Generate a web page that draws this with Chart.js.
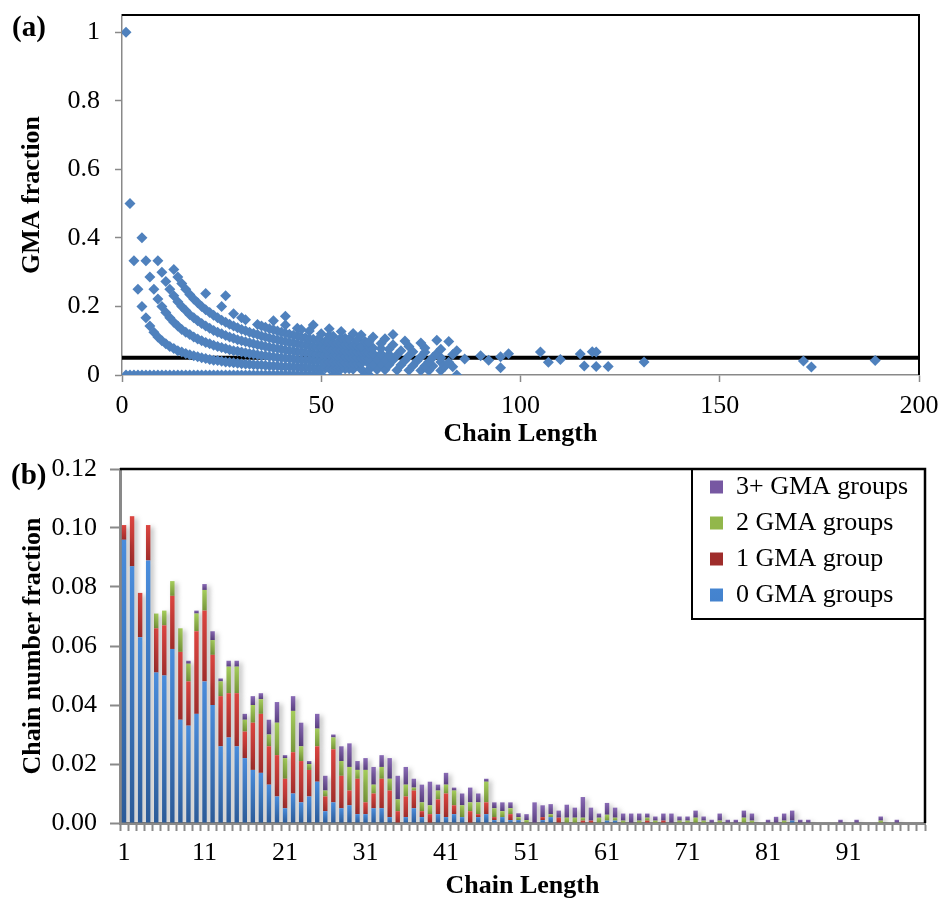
<!DOCTYPE html>
<html>
<head>
<meta charset="utf-8">
<script src="https://cdn.jsdelivr.net/npm/chart.js@4.4.1/dist/chart.umd.min.js"></script>
<style>
  html, body { margin: 0; padding: 0; background: #fff; }
  #wrap { position: relative; width: 942px; height: 902px; overflow: hidden; }
  canvas { position: absolute; left: 0; }
  #chartA { top: 0; }
  #chartB { top: 450px; }
</style>
</head>
<body>
<div id="wrap">
  <canvas id="chartA" width="942" height="450"></canvas>
  <canvas id="chartB" width="942" height="452"></canvas>
</div>
<script>
// ---- panel (a): GMA fraction of each chain vs chain length ----
var xTicksA = [0, 50, 100, 150, 200];
var yTicksA = [0, 0.2, 0.4, 0.6, 0.8, 1];
var yLabelsA = ['0', '0.2', '0.4', '0.6', '0.8', '1'];
var thresholdFrac = 0.05;

// chains with no GMA (fraction 0)
var band0Len = [1,2,3,4,5,6,7,8,9,10,11,12,13,14,15,16,17,18,19,20,21,22,23,24,25,26,27,28,29,30,
  31,32,33,34,35,36,37,38,39,40,41,42,43,44,45,46,47,48,49,50,53,54,61,62,84];

var band1Len = [1,2,3,4,5,6,7,8,9,10,11,12,13,14,15,16,17,18,19,20,21,22,23,24,25,26,27,28,29,30,
  31,32,33,34,35,36,37,38,39,40,41,42,43,44,45,46,47,48,49,50,51,52,53,54,55,56,57,58,
  60,62,64,66,69,72,75,77,80];
var band1Frac = [1.000,0.500,0.333,0.250,0.200,0.167,0.143,0.125,0.111,0.100,
  0.091,0.083,0.077,0.071,0.067,0.063,0.059,0.056,0.053,0.050,
  0.048,0.045,0.043,0.042,0.040,0.038,0.037,0.036,0.034,0.033,
  0.032,0.031,0.030,0.029,0.029,0.028,0.027,0.026,0.026,0.025,
  0.024,0.024,0.023,0.023,0.022,0.022,0.021,0.021,0.020,0.020,
  0.020,0.019,0.019,0.019,0.018,0.018,0.018,0.017,
  0.017,0.016,0.016,0.015,0.014,0.014,0.013,0.013,0.013];

var band2Len = [5,6,7,8,9,10,11,12,13,14,15,16,17,18,19,20,21,22,23,24,25,26,27,28,29,30,
  31,32,33,34,35,36,37,38,39,40,41,42,43,44,45,46,47,48,49,50,51,52,53,54,55,56,57,58,59,60,
  62,63,65,67,70,73,76,78,81,83];
var band2Frac = [0.400,0.333,0.286,0.250,0.222,0.200,0.182,0.167,0.154,0.143,
  0.133,0.125,0.118,0.111,0.105,0.100,0.095,0.091,0.087,0.083,
  0.080,0.077,0.074,0.071,0.069,0.067,0.065,0.063,0.061,0.059,
  0.057,0.056,0.054,0.053,0.051,0.050,0.049,0.048,0.047,0.045,
  0.044,0.043,0.043,0.042,0.041,0.040,0.039,0.038,0.038,0.037,
  0.036,0.036,0.035,0.034,0.034,0.033,
  0.032,0.032,0.031,0.030,0.029,0.027,0.026,0.026,0.025,0.024];

var band3Len = [9,10,11,12,13,14,15,16,17,18,19,20,21,22,23,24,25,26,27,28,29,30,
  31,32,33,34,35,36,37,38,39,40,41,42,43,44,45,46,47,48,49,50,51,52,53,54,55,56,57,58,59,60,61,62,
  64,66,68,71,74,77,80,82];
var band3Frac = [0.333,0.300,0.273,0.250,0.231,0.214,0.200,0.188,0.176,0.167,
  0.158,0.150,0.143,0.136,0.130,0.125,0.120,0.115,0.111,0.107,
  0.103,0.100,0.097,0.094,0.091,0.088,0.086,0.083,0.081,0.079,
  0.077,0.075,0.073,0.071,0.070,0.068,0.067,0.065,0.064,0.063,
  0.061,0.060,0.059,0.058,0.057,0.056,0.055,0.054,0.053,0.052,
  0.051,0.050,0.049,0.048,
  0.047,0.045,0.044,0.042,0.041,0.039,0.038,0.037];

var band4Len = [13,14,15,16,17,18,19,20,21,22,23,24,25,26,27,28,29,30,
  31,32,33,34,35,36,37,38,39,40,41,42,43,44,45,46,47,48,49,50,51,52,53,54,55,56,57,58,59,60,61,62,63,
  65,67,69,72,75,78,80,86];
var band4Frac = [0.308,0.286,0.267,0.250,0.235,0.222,0.211,0.200,0.190,0.182,
  0.174,0.167,0.160,0.154,0.148,0.143,0.138,0.133,0.129,0.125,
  0.121,0.118,0.114,0.111,0.108,0.105,0.103,0.100,0.098,0.095,
  0.093,0.091,0.089,0.087,0.085,0.083,0.082,0.080,0.078,0.077,
  0.075,0.074,0.073,0.071,0.070,0.069,0.068,0.067,0.066,0.065,
  0.063,
  0.062,0.060,0.058,0.056,0.053,0.051,0.050,0.047];

var band5Len = [21,25,28,30,31,34,35,36,37,38,39,40,41,42,43,44,45,46,47,48,49,50,51,52,53,54,55,56,57,58,59,60,
  62,63,65,67,70,73,76,79,83,90];
var band5Frac = [0.238,0.200,0.179,0.167,0.161,0.147,
  0.143,0.139,0.135,0.132,0.128,0.125,0.122,0.119,0.116,0.114,
  0.111,0.109,0.106,0.104,0.102,0.100,0.098,0.096,0.094,0.093,
  0.091,0.089,0.088,0.086,0.085,0.083,
  0.081,0.079,0.077,0.075,0.071,0.068,0.066,0.063,0.060,0.056];

var band6Len = [26,38,41,44,45,47,50,52,53,55,56,57,59,61,62,65,68,72,76,80,84,97];
var band6Frac = [0.231,0.158,0.146,0.136,0.133,0.128,0.120,0.115,0.113,0.109,0.107,0.105,0.102,0.098,0.097,
  0.092,0.088,0.083,0.079,0.075,0.071,0.062];

var band7Len = [41,48,52,55,58,60,63,66,71,75,105,115,171];
var band7Frac = [0.171,0.146,0.135,0.127,0.121,0.117,0.111,0.106,0.099,0.093,0.067,0.061,0.041];

var band8Len = [68,79,82,118,119,189];
var band8Frac = [0.118,0.101,0.098,0.068,0.067,0.042];

var tailLen = [92,95,95,107,110,116,119,122,131,173];
var tailFrac = [0.043,0.053,0.021,0.037,0.045,0.026,0.025,0.025,0.038,0.023];

// ---- panel (b): chain number fraction by number of GMA groups ----
var chainLengths = [1,2,3,4,5,6,7,8,9,10,11,12,13,14,15,16,17,18,19,20,21,22,23,24,25,26,27,28,29,30,
  31,32,33,34,35,36,37,38,39,40,41,42,43,44,45,46,47,48,49,50,51,52,53,54,55,56,57,58,59,60,
  61,62,63,64,65,66,67,68,69,70,71,72,73,74,75,76,77,78,79,80,81,82,83,84,85,86,87,88,89,90,
  91,92,93,94,95,96,97,98,99,100];
var yTicksB = [0, 0.02, 0.04, 0.06, 0.08, 0.10, 0.12];
var yLabelsB = ['0.00', '0.02', '0.04', '0.06', '0.08', '0.10', '0.12'];

var gma0 = [0.096,0.087,0.063,0.089,0.051,0.050,0.059,0.035,0.033,0.037,
  0.048,0.040,0.026,0.029,0.026,0.022,0.018,0.017,0.013,0.009,
  0.005,0.010,0.007,0.009,0.014,0.004,0.007,0.005,0.006,0.003,
  0.003,0.005,0.005,0.002,0,0.002,0.005,0.002,0,0.003,
  0.002,0.003,0.002,0,0.002,0.003,0.001,0.002,0.001,0.001,
  0,0,0.001,0.002,0,0,0,0,0,0,
  0.0008,0.0008,0,0,0,0,0,0,0,0,
  0,0,0,0,0,0,0,0,0,0,
  0,0,0,0.0008,0,0,0,0,0,0,
  0,0,0,0,0,0,0,0,0,0];
var gma1 = [0.005,0.017,0.015,0.012,0.015,0.017,0.018,0.023,0.015,0.028,
  0.024,0.017,0.017,0.015,0.018,0.009,0.016,0.020,0.013,0.014,
  0.010,0.014,0.014,0.009,0.012,0.005,0.018,0.011,0.005,0.012,
  0.004,0.005,0.010,0.009,0.004,0.007,0.006,0.002,0.003,0.005,
  0.008,0.003,0,0.004,0.001,0.004,0.001,0,0.002,0,
  0,0,0.001,0,0.0018,0,0,0.0008,0.0008,0,
  0,0,0,0,0,0.0008,0,0.0008,0,0,
  0,0,0,0,0,0,0,0,0,0,
  0,0,0,0,0,0,0,0,0,0,
  0,0,0,0,0,0,0,0,0,0];
var gma2 = [0,0,0,0,0.005,0.005,0.005,0.008,0.006,0.006,
  0.007,0.005,0.005,0.009,0.009,0.004,0.006,0.005,0.004,0.011,
  0.007,0.014,0.005,0.002,0.006,0.002,0.004,0.005,0.008,0.003,
  0.011,0.003,0.004,0.004,0.004,0.004,0.001,0.003,0.003,0.003,
  0.003,0.005,0.004,0.003,0.004,0.007,0.003,0.002,0.002,0.001,
  0.001,0,0,0.001,0,0.0018,0.0018,0.001,0,0.0018,
  0.002,0.001,0.0008,0,0.0008,0.001,0.0008,0,0,0.0008,
  0.0008,0.0018,0.0008,0,0.0008,0,0,0.0018,0.0008,0,
  0,0,0.0008,0,0,0,0,0,0,0,
  0,0,0,0,0.0008,0,0,0,0,0];
var gma3 = [0,0,0,0,0,0,0,0,0.001,0.001,
  0.002,0.003,0.001,0.002,0.002,0.002,0.003,0.002,0.005,0.007,
  0.001,0.005,0.008,0.001,0.005,0.005,0.001,0.005,0.008,0.003,
  0.004,0.006,0.004,0.007,0.008,0.006,0.003,0.006,0.008,0.002,
  0.004,0.001,0.004,0.005,0.003,0.001,0.002,0.003,0.002,0.0013,
  0.002,0.007,0.004,0.0034,0.0024,0.0044,0.0034,0.007,0.0044,0.0014,
  0.004,0.0034,0.0024,0.0032,0.0024,0.0014,0.0014,0.0024,0.0032,0.0014,
  0.0014,0.0024,0.0014,0.0011,0.0024,0.0011,0.0011,0.0024,0.0024,0,
  0.0011,0.0021,0.0024,0.0034,0.0011,0.0011,0,0,0,0.0011,
  0,0.0011,0,0,0.0014,0,0.0011,0,0,0];

var serif = '"Liberation Serif", "Times New Roman", serif';
Chart.defaults.font.family = serif;
Chart.defaults.font.size = 26;
Chart.defaults.color = '#000';

var axisGray = '#898989';

function pairs(xs, ys) {
  return xs.map(function (x, i) { return { x: x, y: ys ? ys[i] : 0 }; });
}

// top + right frame lines, panel tag and optional legend box
var frameLines = {
  id: 'frameLines',
  afterDraw: function (chart, args, opts) {
    var ctx = chart.ctx, a = chart.chartArea;
    ctx.save();
    ctx.strokeStyle = '#000';
    ctx.lineWidth = opts.width;
    ctx.beginPath();
    ctx.moveTo(a.left, a.top);
    ctx.lineTo(a.right, a.top);
    ctx.lineTo(a.right, a.bottom);
    ctx.stroke();
    if (opts.box) {
      ctx.lineWidth = 2;
      ctx.strokeRect(opts.box[0], a.top, a.right - opts.box[0], opts.box[1]);
    }
    ctx.font = 'bold 29px ' + serif;
    ctx.fillStyle = '#000';
    ctx.textBaseline = 'alphabetic';
    ctx.fillText(opts.tag, opts.tagX, opts.tagY);
    ctx.restore();
  }
};

// soft grey shadow behind the bars
var barShadow = {
  id: 'barShadow',
  beforeDatasetsDraw: function (chart) {
    var ctx = chart.ctx;
    ctx.save();
    ctx.shadowColor = 'rgba(0,0,0,0.28)';
    ctx.shadowBlur = 5;
    ctx.shadowOffsetX = 3;
    ctx.shadowOffsetY = 2;
  },
  afterDatasetsDraw: function (chart) {
    chart.ctx.restore();
  }
};

// put the legend in the top-right corner of the plot area
var legendSpot = {
  id: 'legendSpot',
  afterLayout: function (chart, args, opts) {
    var lg = chart.legend;
    if (!lg) return;
    var w = lg.width, h = lg.height;
    lg.left = opts.x; lg.right = opts.x + w;
    lg.top = opts.y; lg.bottom = opts.y + h;
  }
};

new Chart(document.getElementById('chartA'), {
  type: 'scatter',
  data: {
    datasets: [{
      label: 'GMA fraction',
      data: [].concat(pairs(band0Len), pairs(band1Len, band1Frac), pairs(band2Len, band2Frac),
        pairs(band3Len, band3Frac), pairs(band4Len, band4Frac), pairs(band5Len, band5Frac),
        pairs(band6Len, band6Frac), pairs(band7Len, band7Frac), pairs(band8Len, band8Frac),
        pairs(tailLen, tailFrac)),
      pointStyle: 'rectRot',
      pointRadius: 5.5,
      pointBorderWidth: 0,
      backgroundColor: '#4f81bd',
      borderColor: '#4f81bd',
      order: 1
    }, {
      label: 'threshold',
      data: [{ x: xTicksA[0], y: thresholdFrac }, { x: xTicksA[xTicksA.length - 1], y: thresholdFrac }],
      showLine: true,
      borderColor: '#000',
      borderWidth: 4,
      pointRadius: 0,
      order: 2
    }]
  },
  options: {
    responsive: false,
    animation: false,
    layout: { padding: { top: 15, right: 23, left: 0, bottom: 0 } },
    plugins: {
      legend: { display: false },
      tooltip: { enabled: false },
      frameLines: { width: 2, tag: '(a)', tagX: 12, tagY: 36 }
    },
    scales: {
      x: {
        type: 'linear', min: 0, max: 200,
        afterBuildTicks: function (s) { s.ticks = xTicksA.map(function (v) { return { value: v }; }); },
        afterFit: function (s) { s.height = 75; s.paddingLeft = 0; s.paddingRight = 0; },
        ticks: { padding: 9, maxRotation: 0, color: '#000' },
        grid: { drawOnChartArea: false, tickLength: 7, tickWidth: 1.5, tickColor: axisGray },
        border: { color: axisGray, width: 1.5 },
        title: { display: true, text: 'Chain Length', font: { weight: 'bold', size: 26 }, padding: 0 }
      },
      y: {
        min: 0, max: 1.05,
        afterBuildTicks: function (s) { s.ticks = yTicksA.map(function (v) { return { value: v }; }); },
        afterFit: function (s) { s.width = 122; s.paddingTop = 0; s.paddingBottom = 0; },
        ticks: { padding: 15, color: '#000', callback: function (v, i) { return yLabelsA[i]; } },
        grid: { drawOnChartArea: false, tickLength: 7, tickWidth: 1.5, tickColor: axisGray },
        border: { color: axisGray, width: 1.5 },
        title: { display: true, text: 'GMA fraction', font: { weight: 'bold', size: 26 }, padding: { top: 17 } }
      }
    }
  },
  plugins: [frameLines]
});

function segmentFill(light, dark, solid) {
  return function (c) {
    if (c.type !== 'data') return solid;
    var chart = c.chart, y = chart.scales.y;
    if (!y) return solid;
    var base = 0;
    for (var d = 0; d < c.datasetIndex; d++) base += chart.data.datasets[d].data[c.dataIndex];
    var y0 = y.getPixelForValue(base + c.raw), y1 = y.getPixelForValue(base);
    if (!isFinite(y0) || !isFinite(y1) || y1 - y0 < 1) return solid;
    var g = chart.ctx.createLinearGradient(0, y0, 0, y1);
    g.addColorStop(0, light);
    g.addColorStop(1, dark);
    return g;
  };
}

function barSet(label, values, light, dark, solid) {
  return {
    label: label,
    data: values,
    backgroundColor: segmentFill(light, dark, solid),
    borderWidth: 0,
    barPercentage: 0.55,
    categoryPercentage: 1.0
  };
}

new Chart(document.getElementById('chartB'), {
  type: 'bar',
  data: {
    labels: chainLengths,
    datasets: [
      barSet('0 GMA groups', gma0, '#4a8ddc', '#2c5b98', '#3b76c3'),
      barSet('1 GMA group', gma1, '#dc4540', '#9f2d2b', '#c63c37'),
      barSet('2 GMA groups', gma2, '#a5cd5c', '#77963a', '#92b74b'),
      barSet('3+ GMA groups', gma3, '#8a6bb6', '#5a3f80', '#7758a2')
    ]
  },
  options: {
    responsive: false,
    animation: false,
    layout: { padding: { top: 19, right: 17, left: 0, bottom: 0 } },
    plugins: {
      legend: {
        position: 'chartArea',
        align: 'start',
        reverse: true,
        labels: { boxWidth: 13, boxHeight: 13, padding: 10, color: '#000', font: { size: 26 } }
      },
      legendSpot: { x: 700, y: 14 },
      tooltip: { enabled: false },
      frameLines: { width: 2.5, tag: '(b)', tagX: 11, tagY: 484 - 450, box: [692, 150] }
    },
    scales: {
      x: {
        stacked: true,
        offset: true,
        afterFit: function (s) { s.height = 79; s.paddingLeft = 0; s.paddingRight = 0; },
        ticks: {
          autoSkip: false, maxRotation: 0, minRotation: 0, padding: 7, color: '#000',
          callback: function (v, i) { return i % 10 === 0 ? String(chainLengths[i]) : ''; }
        },
        grid: { offset: true, drawOnChartArea: false, tickLength: 8, tickWidth: 2, tickColor: axisGray },
        border: { color: axisGray, width: 3 },
        title: { display: true, text: 'Chain Length', font: { weight: 'bold', size: 26 }, padding: 0 }
      },
      y: {
        stacked: true,
        min: 0, max: 0.12,
        afterBuildTicks: function (s) { s.ticks = yTicksB.map(function (v) { return { value: v }; }); },
        afterFit: function (s) { s.width = 120; s.paddingTop = 0; s.paddingBottom = 0; },
        ticks: { padding: 13, color: '#000', callback: function (v, i) { return yLabelsB[i]; } },
        grid: { drawOnChartArea: false, tickLength: 10, tickWidth: 2, tickColor: axisGray },
        border: { color: axisGray, width: 3 },
        title: { display: true, text: 'Chain number fraction', font: { weight: 'bold', size: 26 }, padding: { top: 18 } }
      }
    }
  },
  plugins: [legendSpot, barShadow, frameLines]
});
</script>
</body>
</html>
